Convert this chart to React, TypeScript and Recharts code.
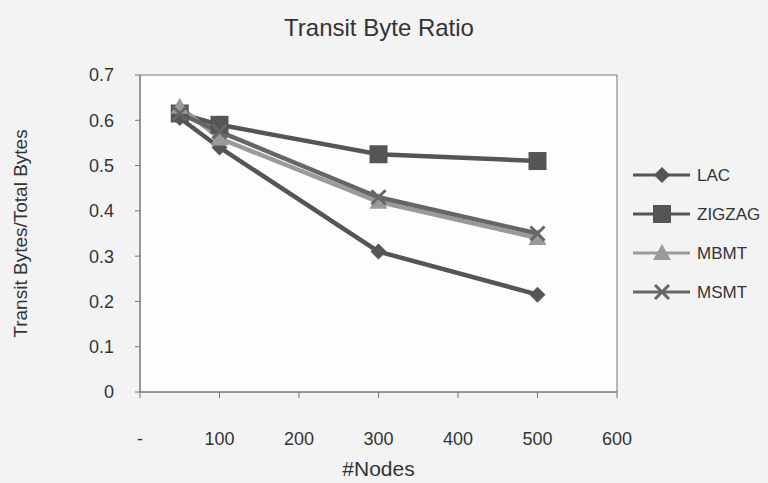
import { LineChart, Line, XAxis, YAxis, ReferenceArea, CartesianGrid } from 'recharts';

const NODES = [50, 100, 300, 500];
const LAC = [0.605, 0.54, 0.31, 0.215];
const ZIGZAG = [0.615, 0.59, 0.525, 0.51];
const MBMT = [0.63, 0.56, 0.42, 0.34];
const MSMT = [0.615, 0.575, 0.43, 0.35];
const X_TICKS = [0, 100, 200, 300, 400, 500, 600];
const Y_TICKS = [0, 0.1, 0.2, 0.3, 0.4, 0.5, 0.6, 0.7];

const data = NODES.map((n, i) => ({ n, LAC: LAC[i], ZIGZAG: ZIGZAG[i], MBMT: MBMT[i], MSMT: MSMT[i] }));

const FONT = '"Liberation Sans", Arial, sans-serif';
const TEXT = '#333';

type Shape = 'diamond' | 'square' | 'triangle' | 'cross';

function Marker({ cx, cy, shape, color }: { cx: number; cy: number; shape: Shape; color: string }) {
    if (shape === 'diamond') {
        return <path d={`M${cx} ${cy - 8}L${cx + 8} ${cy}L${cx} ${cy + 8}L${cx - 8} ${cy}Z`} fill={color} />;
    }
    if (shape === 'square') {
        return <rect x={cx - 9} y={cy - 9} width={18} height={18} fill={color} />;
    }
    if (shape === 'triangle') {
        return <path d={`M${cx} ${cy - 9}L${cx + 9} ${cy + 7}L${cx - 9} ${cy + 7}Z`} fill={color} />;
    }
    return (
        <path d={`M${cx - 7} ${cy - 7}L${cx + 7} ${cy + 7}M${cx + 7} ${cy - 7}L${cx - 7} ${cy + 7}`} stroke={color} strokeWidth={3} />
    );
}

const SERIES: { key: string; color: string; shape: Shape }[] = [
    { key: 'LAC', color: '#555', shape: 'diamond' },
    { key: 'ZIGZAG', color: '#555', shape: 'square' },
    { key: 'MBMT', color: '#9a9a9a', shape: 'triangle' },
    { key: 'MSMT', color: '#666', shape: 'cross' },
];

function dotFor(shape: Shape, color: string) {
    return (props: any) => {
        const { cx, cy, index } = props;
        if (cx == null || cy == null) return <g key={index} />;
        return <Marker key={index} cx={cx} cy={cy} shape={shape} color={color} />;
    };
}

// legend sits to the right of the plot frame, outside the chart's layout
function LegendBox() {
    return (
        <svg width={135} height={160} style={{ position: 'absolute', left: 633, top: 160 }}>
            {SERIES.map((s, i) => {
                const y = 15 + i * 39;
                return (
                    <g key={s.key}>
                        <line x1={0} x2={57} y1={y} y2={y} stroke={s.color} strokeWidth={3} />
                        <Marker cx={29} cy={y} shape={s.shape} color={s.color} />
                        <text x={64} y={y + 6} fontSize={17} fill={TEXT} fontFamily={FONT}>{s.key}</text>
                    </g>
                );
            })}
        </svg>
    );
}

export default function App() {
    return (
        <div style={{ position: 'absolute', left: 0, top: 0, width: 768, height: 483, background: '#f3f3f3', fontFamily: FONT }}>
            <div style={{ position: 'absolute', top: 14, left: 0, width: 758, textAlign: 'center', fontSize: 24, color: TEXT }}>
                Transit Byte Ratio
            </div>
            <LineChart width={768} height={483} data={data} margin={{ top: 75, right: 151, bottom: 0, left: 0 }}>
                <CartesianGrid horizontal={false} vertical={false} fill="#fdfdfd" />
                <XAxis
                    dataKey="n"
                    type="number"
                    domain={[0, 600]}
                    ticks={X_TICKS}
                    tickFormatter={(v: number) => (v === 0 ? '-' : String(v))}
                    height={91}
                    tickSize={6}
                    tickMargin={34}
                    stroke="#777"
                    tick={{ fontSize: 18, fill: TEXT, fontFamily: FONT }}
                    label={{ value: '#Nodes', position: 'insideBottom', offset: 7, fontSize: 21, fill: TEXT, fontFamily: FONT }}
                />
                <YAxis
                    type="number"
                    domain={[0, 0.7]}
                    ticks={Y_TICKS}
                    tickFormatter={(v: number) => String(v)}
                    width={140}
                    tickSize={5}
                    tickMargin={21}
                    stroke="#777"
                    tick={{ fontSize: 18, fill: TEXT, fontFamily: FONT }}
                    label={{ value: 'Transit Bytes/Total Bytes', angle: -90, position: 'insideLeft', offset: 20, fontSize: 19, fill: TEXT, fontFamily: FONT, style: { textAnchor: 'middle' } }}
                />
                <ReferenceArea x1={0} x2={600} y1={0} y2={0.7} fill="none" stroke="#777" strokeWidth={1} />
                {SERIES.map((s) => (
                    <Line
                        key={s.key}
                        dataKey={s.key}
                        stroke={s.color}
                        strokeWidth={4.5}
                        dot={dotFor(s.shape, s.color)}
                        activeDot={false}
                        isAnimationActive={false}
                    />
                ))}
            </LineChart>
            <LegendBox />
        </div>
    );
}
